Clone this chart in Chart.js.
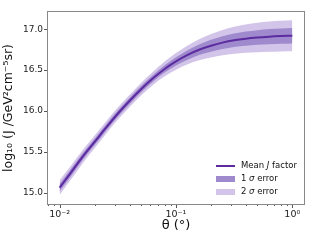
<!DOCTYPE html>
<html><head><meta charset="utf-8">
<script src="https://cdn.jsdelivr.net/npm/chart.js@4"></script>
<style>html,body{margin:0;padding:0;background:#fff;overflow:hidden}canvas{display:block}</style>
</head><body>
<canvas id="c" width="320" height="240"></canvas>
<script>
// ---- data ----
const thetaDeg = [0.01, 0.0126, 0.0158, 0.02, 0.0251, 0.0316, 0.0398, 0.0501, 0.0631, 0.0794, 0.1, 0.126, 0.158, 0.2, 0.251, 0.316, 0.398, 0.501, 0.631, 0.794, 1.0];
const meanJ = [15.06, 15.25, 15.44, 15.62, 15.795, 15.965, 16.12, 16.265, 16.395, 16.51, 16.605, 16.685, 16.748, 16.797, 16.835, 16.864, 16.884, 16.898, 16.908, 16.915, 16.92];
const err1 = [0.045, 0.043, 0.040, 0.039, 0.038, 0.038, 0.038, 0.039, 0.041, 0.045, 0.051, 0.058, 0.065, 0.072, 0.078, 0.083, 0.087, 0.090, 0.093, 0.094, 0.095];
const err2 = [0.090, 0.085, 0.080, 0.078, 0.076, 0.075, 0.075, 0.077, 0.081, 0.090, 0.102, 0.115, 0.129, 0.143, 0.155, 0.165, 0.173, 0.180, 0.185, 0.188, 0.190];
const yTicks = [15.0, 15.5, 16.0, 16.5, 17.0];
const xMajorTicks = [0.01, 0.1, 1];
const xMajorLabels = ['10⁻²', '10⁻¹', '10⁰'];
const xMinorTicks = [0.008, 0.009, 0.02, 0.03, 0.04, 0.05, 0.06, 0.07, 0.08, 0.09, 0.2, 0.3, 0.4, 0.5, 0.6, 0.7, 0.8, 0.9];
const legendLabels = [['Mean ', 'J', ' factor'], ['1 ', 'σ', ' error'], ['2 ', 'σ', ' error']];
const yTitle = 'log₁₀ (J /GeV²cm⁻⁵sr)';
const xTitle = 'θ (°)';

const colLine = '#5b2b9f';
const col1 = '#a08ace';
const col2 = '#d3c5e9';
const FONT = "'DejaVu Sans', sans-serif";

const pts = (arr) => thetaDeg.map((t, i) => ({x: t, y: arr[i]}));
const lo1 = meanJ.map((m, i) => m - err1[i]);
const hi1 = meanJ.map((m, i) => m + err1[i]);
const lo2 = meanJ.map((m, i) => m - err2[i]);
const hi2 = meanJ.map((m, i) => m + err2[i]);

const band = (data, fill, bg) => ({data: pts(data), fill: fill, backgroundColor: bg, borderWidth: 0, pointRadius: 0, cubicInterpolationMode: 'monotone'});

const frameTicks = {
  id: 'frameTicks',
  afterDraw(chart) {
    const ctx = chart.ctx, a = chart.chartArea;
    const xs = chart.scales.x, ys = chart.scales.y;
    ctx.save();
    ctx.strokeStyle = '#555';
    ctx.lineWidth = 1;
    xMajorTicks.forEach(v => { const p = Math.round(xs.getPixelForValue(v)) + 0.5; ctx.beginPath(); ctx.moveTo(p, a.bottom); ctx.lineTo(p, a.bottom + 4); ctx.stroke(); });
    xMinorTicks.forEach(v => { const p = Math.round(xs.getPixelForValue(v)) + 0.5; if (p < a.left - 0.5) return; ctx.beginPath(); ctx.moveTo(p, a.bottom); ctx.lineTo(p, a.bottom + 2); ctx.stroke(); });
    yTicks.forEach(v => { const p = Math.round(ys.getPixelForValue(v)) + 0.5; ctx.beginPath(); ctx.moveTo(a.left, p); ctx.lineTo(a.left - 4, p); ctx.stroke(); });
    ctx.strokeStyle = '#888';
    ctx.strokeRect(Math.round(a.left) - 0.5, Math.round(a.top) - 0.5, Math.round(a.right - a.left) + 1, Math.round(a.bottom - a.top) + 1);
    // legend
    const handles = ['line', col1, col2];
    const x0 = 216, ys0 = [166, 179, 192];
    legendLabels.forEach((parts, i) => {
      const y = ys0[i];
      if (handles[i] === 'line') {
        ctx.strokeStyle = colLine; ctx.lineWidth = 2;
        ctx.beginPath(); ctx.moveTo(x0, y); ctx.lineTo(x0 + 19, y); ctx.stroke();
      } else {
        ctx.fillStyle = handles[i];
        ctx.fillRect(x0, y - 3, 19, 6);
      }
      let tx = 241;
      ctx.fillStyle = '#111';
      ctx.textBaseline = 'middle';
      parts.forEach((s, k) => {
        ctx.font = (k === 1 ? 'italic ' : '') + '8.5px ' + FONT;
        ctx.fillText(s, tx, y);
        tx += ctx.measureText(s).width;
      });
    });
    ctx.restore();
  }
};

new Chart(document.getElementById('c'), {
  type: 'line',
  data: {
    datasets: [
      {data: pts(meanJ), borderColor: colLine, borderWidth: 2, pointRadius: 0, fill: false, cubicInterpolationMode: 'monotone'},
      band(lo1, false, col1),
      band(hi1, '-1', col1),
      band(lo2, false, col2),
      band(hi2, '-1', col2)
    ]
  },
  options: {
    responsive: false,
    animation: false,
    devicePixelRatio: 1,
    layout: {padding: {left: 0, top: 12, right: 16, bottom: 0}},
    plugins: {legend: {display: false}, tooltip: {enabled: false}},
    scales: {
      x: {
        type: 'logarithmic',
        min: 0.00795, max: 1.26,
        afterBuildTicks: (s) => { s.ticks = xMajorTicks.map(v => ({value: v, major: true})); },
        afterFit: (s) => { s.height = 36; },
        ticks: {
          autoSkip: false, maxRotation: 0, padding: 1, color: '#222',
          font: {family: FONT, size: 9.5},
          callback: (v) => { const i = xMajorTicks.findIndex(t => Math.abs(t - v) / t < 1e-6); return i >= 0 ? xMajorLabels[i] : ''; }
        },
        grid: {display: true, drawOnChartArea: false, drawTicks: true, tickLength: 4, tickColor: 'rgba(0,0,0,0)'},
        border: {display: false},
        title: {display: true, text: xTitle, color: '#111', font: {family: FONT, size: 13}, padding: {top: 0, bottom: 7}}
      },
      y: {
        type: 'linear',
        min: 14.86, max: 17.21,
        afterBuildTicks: (s) => { s.ticks = yTicks.map(v => ({value: v})); },
        afterFit: (s) => { s.width = 48; },
        ticks: {padding: 1, color: '#222', font: {family: FONT, size: 9}, callback: (v) => Number(v).toFixed(1)},
        grid: {display: true, drawOnChartArea: false, drawTicks: true, tickLength: 4, tickColor: 'rgba(0,0,0,0)'},
        border: {display: false},
        title: {display: true, text: yTitle, color: '#111', font: {family: FONT, size: 12.5}, padding: {top: 1, bottom: 0}}
      }
    }
  },
  plugins: [frameTicks]
});
</script>
</body></html>
